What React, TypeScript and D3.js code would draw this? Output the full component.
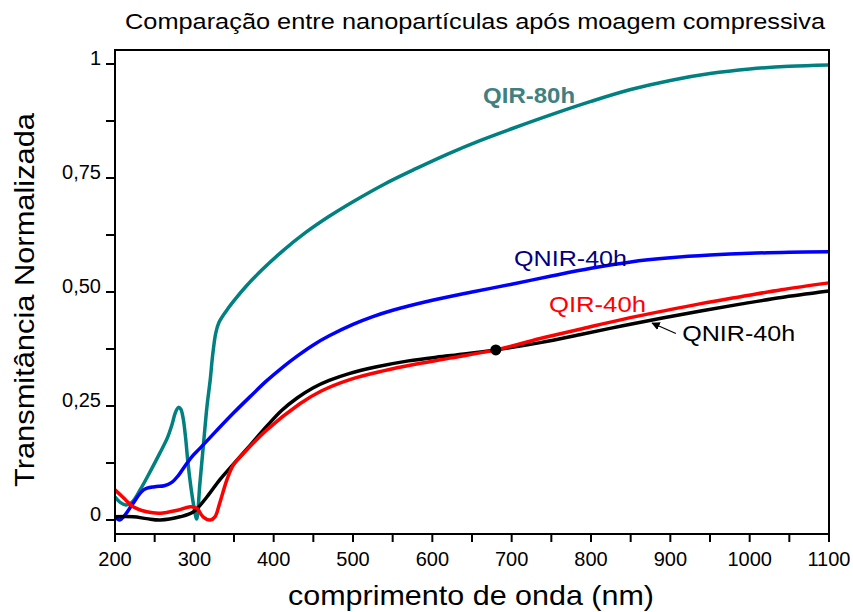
import React, { useEffect, useRef } from 'react';
import * as d3 from 'd3';

// QIR-80h (teal)
const qir80Wl = [200, 207, 214, 222, 232, 244, 256, 266, 272, 276, 280, 283, 286, 289, 292, 296, 300, 303, 307, 312, 316, 320, 323, 327, 331, 340, 350, 365, 385, 410, 440, 470, 500, 540, 580, 620, 660, 700, 750, 800, 850, 900, 950, 1000, 1050, 1100];
const qir80T = [0.051, 0.038, 0.033, 0.04, 0.067, 0.105, 0.145, 0.18, 0.21, 0.235, 0.247, 0.243, 0.222, 0.18, 0.125, 0.068, 0.024, 0.002, 0.08, 0.175, 0.25, 0.307, 0.36, 0.41, 0.433, 0.458, 0.481, 0.512, 0.548, 0.588, 0.63, 0.666, 0.698, 0.737, 0.771, 0.803, 0.832, 0.858, 0.889, 0.918, 0.944, 0.964, 0.979, 0.989, 0.995, 0.998];

// QNIR-40h (blue)
const qnirBlueWl = [200, 206, 213, 223, 236, 250, 262, 272, 280, 288, 296, 307, 328, 349, 370, 391, 412, 430, 450, 470, 500, 525, 550, 600, 650, 700, 750, 800, 850, 900, 950, 1000, 1050, 1100];
const qnirBlueT = [0.007, 0.0, 0.012, 0.037, 0.066, 0.073, 0.075, 0.083, 0.098, 0.118, 0.137, 0.157, 0.196, 0.234, 0.27, 0.305, 0.336, 0.36, 0.384, 0.404, 0.429, 0.446, 0.46, 0.482, 0.5, 0.517, 0.535, 0.552, 0.566, 0.575, 0.581, 0.585, 0.587, 0.588];

// QIR-40h (red)
const qir40Wl = [200, 210, 223, 240, 257, 280, 295, 303, 311, 320, 326, 332, 341, 349, 362, 391, 433, 460, 496, 538, 580, 622, 680, 736, 790, 840, 890, 940, 990, 1040, 1100];
const qir40T = [0.066, 0.05, 0.029, 0.018, 0.015, 0.022, 0.029, 0.026, 0.007, 0.0, 0.007, 0.037, 0.088, 0.12, 0.146, 0.197, 0.255, 0.283, 0.308, 0.327, 0.342, 0.355, 0.373, 0.398, 0.42, 0.44, 0.458, 0.475, 0.49, 0.505, 0.52];

// QNIR-40h (black)
const qnirBlackWl = [200, 223, 240, 257, 282, 299, 316, 332, 349, 370, 391, 410, 430, 450, 470, 495, 530, 570, 620, 680, 736, 790, 840, 890, 940, 990, 1040, 1100];
const qnirBlackT = [0.007, 0.007, 0.003, 0.0, 0.007, 0.018, 0.051, 0.088, 0.122, 0.163, 0.205, 0.24, 0.268, 0.29, 0.306, 0.321, 0.336, 0.349, 0.36, 0.373, 0.389, 0.408, 0.426, 0.443, 0.459, 0.474, 0.488, 0.502];

const xMajor = [200, 300, 400, 500, 600, 700, 800, 900, 1000, 1100];
const yMajor = [0, 0.25, 0.5, 0.75, 1];
const yLabels = ['0', '0,25', '0,50', '0,75', '1'];

const App = () => {
  const ref = useRef(null);

  useEffect(() => {
    const svg = d3.select(ref.current);
    svg.selectAll('*').remove();

    const left = 115, right = 829, top = 50, bottom = 534;
    const x = d3.scaleLinear().domain([200, 1100]).range([left, right]);
    const y = d3.scaleLinear().domain([-0.0307, 1.0307]).range([bottom, top]);
    const font = 'Arial, "Liberation Sans", sans-serif';

    const line = d3.line()
      .x(d => x(d[0]))
      .y(d => y(d[1]))
      .curve(d3.curveCatmullRom.alpha(0.5));

    const series = [
      { wl: qir80Wl, t: qir80T, color: '#008080' },
      { wl: qnirBlueWl, t: qnirBlueT, color: '#0000ff' },
      { wl: qnirBlackWl, t: qnirBlackT, color: '#000000' },
      { wl: qir40Wl, t: qir40T, color: '#ff0000' },
    ];

    const plot = svg.append('g');
    series.forEach(s => {
      plot.append('path')
        .datum(s.wl.map((w, i) => [w, s.t[i]]))
        .attr('d', line)
        .attr('fill', 'none')
        .attr('stroke', s.color)
        .attr('stroke-width', 3.5)
        .attr('stroke-linejoin', 'round');
    });

    // point where the two 40h curves meet
    plot.append('circle')
      .attr('cx', x(680)).attr('cy', y(0.373)).attr('r', 5.5)
      .attr('fill', '#000');

    // frame
    svg.append('rect')
      .attr('x', left).attr('y', top)
      .attr('width', right - left).attr('height', bottom - top)
      .attr('fill', 'none').attr('stroke', '#000').attr('stroke-width', 2);

    // x axis
    const xAxis = svg.append('g').attr('transform', `translate(0,${bottom})`);
    d3.range(200, 1101, 50).forEach(v => {
      xAxis.append('line')
        .attr('x1', x(v)).attr('x2', x(v))
        .attr('y1', 0).attr('y2', 8)
        .attr('stroke', '#000').attr('stroke-width', 2);
    });
    xAxis.selectAll('text.tick').data(xMajor).enter().append('text')
      .attr('x', d => x(d)).attr('y', 32)
      .attr('text-anchor', 'middle')
      .style('font', `20px ${font}`)
      .text(d => d);

    // y axis
    const yAxis = svg.append('g').attr('transform', `translate(${left},0)`);
    d3.range(0, 1.01, 0.125).forEach(v => {
      yAxis.append('line')
        .attr('x1', -9).attr('x2', 0)
        .attr('y1', y(v)).attr('y2', y(v))
        .attr('stroke', '#000').attr('stroke-width', 2);
    });
    yAxis.selectAll('text.tick').data(yMajor).enter().append('text')
      .attr('x', -14).attr('y', d => y(d) + 1)
      .attr('text-anchor', 'end')
      .style('font', `20px ${font}`)
      .text((d, i) => yLabels[i]);

    // titles
    svg.append('text')
      .attr('x', 125).attr('y', 29)
      .attr('textLength', 700).attr('lengthAdjust', 'spacingAndGlyphs')
      .style('font', `22px ${font}`)
      .text('Comparação entre nanopartículas após moagem compressiva');

    svg.append('text')
      .attr('x', 288).attr('y', 605)
      .attr('textLength', 366).attr('lengthAdjust', 'spacingAndGlyphs')
      .style('font', `28px ${font}`)
      .text('comprimento de onda (nm)');

    svg.append('text')
      .attr('transform', 'translate(34,487) rotate(-90)')
      .attr('textLength', 374).attr('lengthAdjust', 'spacingAndGlyphs')
      .style('font', `27px ${font}`)
      .text('Transmitância Normalizada');

    // curve labels
    const labels = [
      { text: 'QIR-80h', wl: 664, t: 0.914, len: 92, color: '#408080', weight: 'bold' },
      { text: 'QNIR-40h', wl: 703, t: 0.557, len: 113, color: '#000080', weight: 'normal' },
      { text: 'QIR-40h', wl: 747, t: 0.457, len: 97, color: '#ff0000', weight: 'normal' },
      { text: 'QNIR-40h', wl: 915, t: 0.392, len: 113, color: '#000000', weight: 'normal' },
    ];
    labels.forEach(l => {
      svg.append('text')
        .attr('x', x(l.wl)).attr('y', y(l.t))
        .attr('textLength', l.len).attr('lengthAdjust', 'spacingAndGlyphs')
        .attr('fill', l.color)
        .style('font', `${l.weight} 22px ${font}`)
        .text(l.text);
    });

    // arrow to the black curve
    svg.append('defs').append('marker')
      .attr('id', 'arrow')
      .attr('viewBox', '0 0 10 10')
      .attr('refX', 9).attr('refY', 5)
      .attr('markerWidth', 7).attr('markerHeight', 7)
      .attr('orient', 'auto')
      .append('path').attr('d', 'M0,0 L10,5 L0,10 z').attr('fill', '#000');
    svg.append('line')
      .attr('x1', x(907)).attr('y1', y(0.409))
      .attr('x2', x(877)).attr('y2', y(0.432))
      .attr('stroke', '#000').attr('stroke-width', 1.2)
      .attr('marker-end', 'url(#arrow)');
  }, []);

  return (
    <svg ref={ref} width={853} height={612}
      style={{ position: 'absolute', left: 0, top: 0, background: '#fff' }} />
  );
};

export default App;
